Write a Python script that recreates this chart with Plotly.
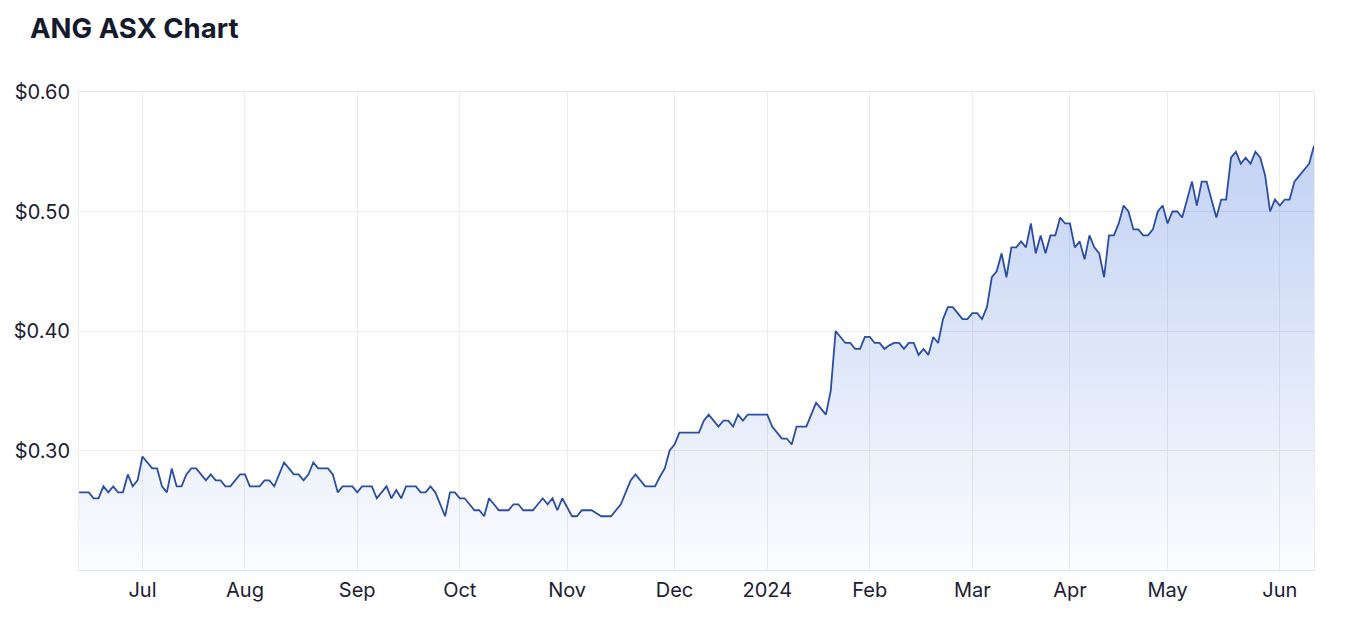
import pandas as pd
import plotly.graph_objects as go

# ANG (ASX) daily closing prices, 14 Jun 2023 - 13 Jun 2024 (trading days)
start_date = "2023-06-14"
end_date = "2024-06-13"
asx_holidays = ["2023-12-25", "2023-12-26", "2024-01-01", "2024-01-26",
                "2024-03-29", "2024-04-01", "2024-04-25", "2024-06-10"]

prices_jun_sep = [
    0.265, 0.265, 0.265, 0.260, 0.260, 0.270, 0.265, 0.270, 0.265, 0.265,
    0.280, 0.270, 0.275, 0.295, 0.290, 0.285, 0.285, 0.270, 0.265, 0.285,
    0.270, 0.270, 0.280, 0.285, 0.285, 0.280, 0.275, 0.280, 0.275, 0.275,
    0.270, 0.270, 0.275, 0.280, 0.280, 0.270, 0.270, 0.270, 0.275, 0.275,
    0.270, 0.280, 0.290, 0.285, 0.280, 0.280, 0.275, 0.280, 0.290, 0.285,
    0.285, 0.285, 0.280, 0.265, 0.270, 0.270, 0.270,
]
prices_sep_nov = [
    0.265, 0.270, 0.270, 0.270, 0.260, 0.265, 0.270, 0.260, 0.267, 0.260,
    0.270, 0.270, 0.270, 0.265, 0.265, 0.270, 0.265, 0.255, 0.245, 0.265,
    0.265, 0.260, 0.260, 0.255, 0.250, 0.250, 0.245, 0.260, 0.255, 0.250,
    0.250, 0.250, 0.255, 0.255, 0.250, 0.250, 0.250, 0.255, 0.260, 0.255,
    0.260, 0.250, 0.260,
]
prices_nov_jan = [
    0.2525, 0.245, 0.245, 0.250, 0.250, 0.250, 0.2475, 0.245, 0.245, 0.245,
    0.250, 0.255, 0.265, 0.275, 0.280, 0.275, 0.270, 0.270, 0.270, 0.278,
    0.285, 0.300, 0.305, 0.315, 0.315, 0.315, 0.315, 0.315, 0.325, 0.330,
    0.325, 0.320, 0.325, 0.325, 0.320, 0.330, 0.325, 0.330, 0.330, 0.330,
    0.330,
]
prices_jan_mar = [
    0.330, 0.320, 0.315, 0.310, 0.310, 0.305, 0.320, 0.320, 0.320, 0.330,
    0.340, 0.335, 0.330, 0.350, 0.400, 0.395, 0.390, 0.390, 0.385, 0.385,
    0.395, 0.395, 0.390, 0.390, 0.385, 0.388, 0.390, 0.390, 0.385, 0.390,
    0.390, 0.380, 0.385, 0.380, 0.395, 0.390, 0.410, 0.420, 0.420, 0.415,
    0.410, 0.410,
]
prices_mar_may = [
    0.415, 0.415, 0.410, 0.420, 0.445, 0.450, 0.465, 0.445, 0.470, 0.470,
    0.475, 0.470, 0.490, 0.465, 0.480, 0.465, 0.480, 0.480, 0.495, 0.490,
    0.490, 0.470, 0.475, 0.460, 0.480, 0.470, 0.465, 0.445, 0.480, 0.480,
    0.490, 0.505, 0.500, 0.485, 0.485, 0.480, 0.480, 0.485, 0.500, 0.505,
]
prices_may_jun = [
    0.490, 0.500, 0.500, 0.495, 0.510, 0.525, 0.505, 0.525, 0.525, 0.510,
    0.495, 0.510, 0.510, 0.545, 0.550, 0.540, 0.545, 0.540, 0.550, 0.545,
    0.530, 0.500, 0.510, 0.505, 0.510, 0.510, 0.525, 0.530, 0.535, 0.540,
    0.555,
]
prices = (prices_jun_sep + prices_sep_nov + prices_nov_jan
          + prices_jan_mar + prices_mar_may + prices_may_jun)

month_labels = ["Jul", "Aug", "Sep", "Oct", "Nov", "Dec", "2024",
                "Feb", "Mar", "Apr", "May", "Jun"]
y_tick_values = [0.30, 0.40, 0.50, 0.60]
y_tick_labels = ["$0.30", "$0.40", "$0.50", "$0.60"]

# trading calendar -> ordinal positions
days = pd.bdate_range(start_date, end_date)
days = days[~days.isin(pd.to_datetime(asx_holidays))]
n = min(len(days), len(prices))
days = days[:n]
prices = prices[:n]
idx = list(range(n))

month_start_idx = []
prev = days[0].month
for i, d in enumerate(days):
    if d.month != prev:
        month_start_idx.append(i)
        prev = d.month
month_start_idx = month_start_idx[:len(month_labels)]

FONT = "Inter, 'Noto Sans', 'DejaVu Sans', sans-serif"
TEXT = "#1b2033"
GRID = "#ececec"

fig = go.Figure()
fig.add_trace(go.Scatter(
    x=idx, y=prices, mode="lines",
    line=dict(color="#2b4ea3", width=1.8),
    fill="tozeroy",
    fillgradient=dict(
        type="vertical", start=0.2, stop=0.58,
        colorscale=[[0, "rgba(60,110,220,0.02)"], [1, "rgba(60,110,220,0.33)"]],
    ),
    customdata=[d.strftime("%d %b %Y") for d in days],
    hovertemplate="%{customdata}<br>$%{y:.3f}<extra></extra>",
))

# page body has an 8px margin, so the figure is offset by 8px
fig.update_layout(
    width=1346, height=622,
    margin=dict(l=71, r=40, t=84, b=60, autoexpand=False),
    paper_bgcolor="white", plot_bgcolor="white",
    showlegend=False,
    font=dict(family=FONT, size=20, color=TEXT),
    title=dict(text="<b>ANG ASX Chart</b>", x=22 / 1346, xanchor="left",
               xref="container", y=1 - 20 / 622, yanchor="middle", yref="container",
               font=dict(family=FONT, size=27.5, color="#151a2d")),
)
fig.update_xaxes(
    range=[0, n - 1], automargin=False,
    tickmode="array", tickvals=month_start_idx, ticktext=month_labels,
    showgrid=True, gridcolor=GRID, gridwidth=1,
    showline=True, linecolor="#e2e2e2", linewidth=1, mirror=True,
    ticks="", zeroline=False, ticklabelstandoff=2,
    tickfont=dict(family=FONT, size=20, color=TEXT),
)
fig.update_yaxes(
    range=[0.2, 0.6], automargin=False,
    tickmode="array", tickvals=y_tick_values, ticktext=y_tick_labels,
    showgrid=True, gridcolor=GRID, gridwidth=1,
    showline=True, linecolor="#ececec", linewidth=1, mirror=True,
    ticks="", zeroline=False, ticklabelstandoff=4,
    tickfont=dict(family=FONT, size=20, color=TEXT),
)

fig.write_html("out.html")
